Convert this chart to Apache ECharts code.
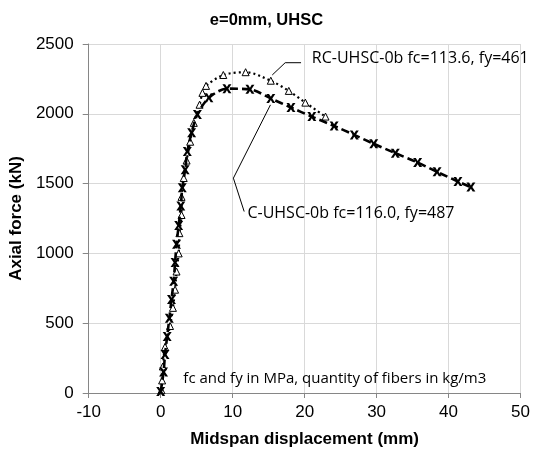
<!DOCTYPE html>
<html><head><meta charset="utf-8">
<script src="https://cdn.jsdelivr.net/npm/echarts@6/dist/echarts.min.js"></script>
<style>html,body{margin:0;padding:0;background:#fff}#c{width:533px;height:454px}</style>
</head><body><div id="c"></div>
<script>
const titleText = 'e=0mm, UHSC';
const xTitle = 'Midspan displacement (mm)';
const yTitle = 'Axial force (kN)';
const nameC = 'C-UHSC-0b fc=116.0, fy=487';
const nameRC = 'RC-UHSC-0b fc=113.6, fy=461';
const noteText = 'fc and fy in MPa, quantity of fibers in kg/m3';

const cX = [0.0,0.4,0.6,0.9,1.2,1.5,1.8,2.0,2.2,2.5,2.8,3.0,3.4,3.7,4.3,5.1,6.7,9.2,12.4,15.3,18.1,21.0,24.1,26.9,29.6,32.6,35.7,38.4,41.3,43.1];
const cY = [10,150,275,405,535,670,800,935,1065,1200,1340,1470,1600,1730,1865,1995,2115,2180,2175,2110,2045,1980,1913,1849,1785,1718,1651,1584,1515,1475];
const rcX = [0.1,0.2,0.3,0.6,1.3,1.7,2.0,2.2,2.5,2.6,2.9,2.9,3.2,3.6,4.1,4.6,5.4,5.8,6.3,8.7,11.8,15.3,17.8,20.1,22.9];
const rcY = [20,90,190,330,480,610,740,870,1000,1145,1275,1405,1540,1665,1800,1935,2065,2150,2200,2278,2298,2237,2164,2080,1980];

const leaderRC = [[19.5,2366],[17.3,2366],[15.5,2278]];
const leaderC = [[15.25,2064],[10.1,1539],[11.6,1300]];
const labelRCpos = [21.0,2374];
const labelCpos = [12.05,1264];
const notePos = [3.15,81];

const xPath = 'path://M0,0 L3,0 L5,3.2 L7,0 L10,0 L6.6,5 L10,10 L7,10 L5,6.8 L3,10 L0,10 L3.4,5 Z';

const chart = echarts.init(document.getElementById('c'));
const zip = (a,b)=>a.map((v,i)=>[v,b[i]]);
const AR = 'Liberation Sans, Arial, sans-serif';
const axisFont = {fontFamily:AR, fontSize:17, color:'#000'};
chart.setOption({
  animation:false,
  title:{text:titleText,left:'center',top:7,textStyle:{fontFamily:AR,fontSize:16.5,fontWeight:'bold',color:'#000'}},
  grid:{left:84,right:11,top:44,bottom:61},
  xAxis:{type:'value',min:-10,max:50,interval:10,name:xTitle,nameLocation:'middle',nameGap:38,
    nameTextStyle:{fontFamily:AR,fontSize:17,fontWeight:'bold',color:'#000'},
    axisLine:{onZero:false,lineStyle:{color:'#868686'}},axisTick:{show:true,length:5,lineStyle:{color:'#868686'}},
    axisLabel:Object.assign({margin:11,formatter:v=>String(v)},axisFont),
    splitLine:{show:true,lineStyle:{color:'#d9d9d9'}}},
  yAxis:{type:'value',min:0,max:2500,interval:500,name:yTitle,nameLocation:'middle',nameGap:58,
    nameTextStyle:{fontFamily:AR,fontSize:17,fontWeight:'bold',color:'#000'},
    axisLine:{show:true,onZero:false,lineStyle:{color:'#868686'}},axisTick:{show:true,length:6,lineStyle:{color:'#868686'}},
    axisLabel:Object.assign({margin:15,formatter:v=>String(v)},axisFont),
    splitLine:{show:true,lineStyle:{color:'#d9d9d9'}}},
  series:[
    {name:nameRC,type:'line',data:zip(rcX,rcY),smooth:0.3,symbol:'triangle',symbolSize:7,
      itemStyle:{color:'#fff',borderColor:'#000',borderWidth:1},
      lineStyle:{color:'#000',width:2.2,type:[2,3]},z:2},
    {name:nameC,type:'line',data:zip(cX,cY),smooth:0.3,symbol:xPath,symbolSize:9,
      itemStyle:{color:'#000'},
      lineStyle:{color:'#000',width:2.6,type:[8,4]},z:3},
    {type:'line',data:leaderRC,symbol:'none',silent:true,lineStyle:{color:'#000',width:1}},
    {type:'line',data:leaderC,symbol:'none',silent:true,lineStyle:{color:'#000',width:1}}
  ]
});
const p1 = chart.convertToPixel({gridIndex:0}, labelRCpos);
const p2 = chart.convertToPixel({gridIndex:0}, labelCpos);
const p3 = chart.convertToPixel({gridIndex:0}, notePos);
const FS = 16, FN = 15;
const lblStyle = {fontFamily:'Open Sans, sans-serif',fontSize:FS,fill:'#000'};
chart.setOption({graphic:[
  {type:'text',left:p1[0],top:p1[1]-FS*0.7,style:Object.assign({text:nameRC},lblStyle)},
  {type:'text',left:p2[0],top:p2[1]-FS*0.7,style:Object.assign({text:nameC},lblStyle)},
  {type:'text',left:p3[0],top:p3[1]-FN*0.7,style:Object.assign({},lblStyle,{text:noteText,fontSize:FN})}
]});
</script></body></html>
